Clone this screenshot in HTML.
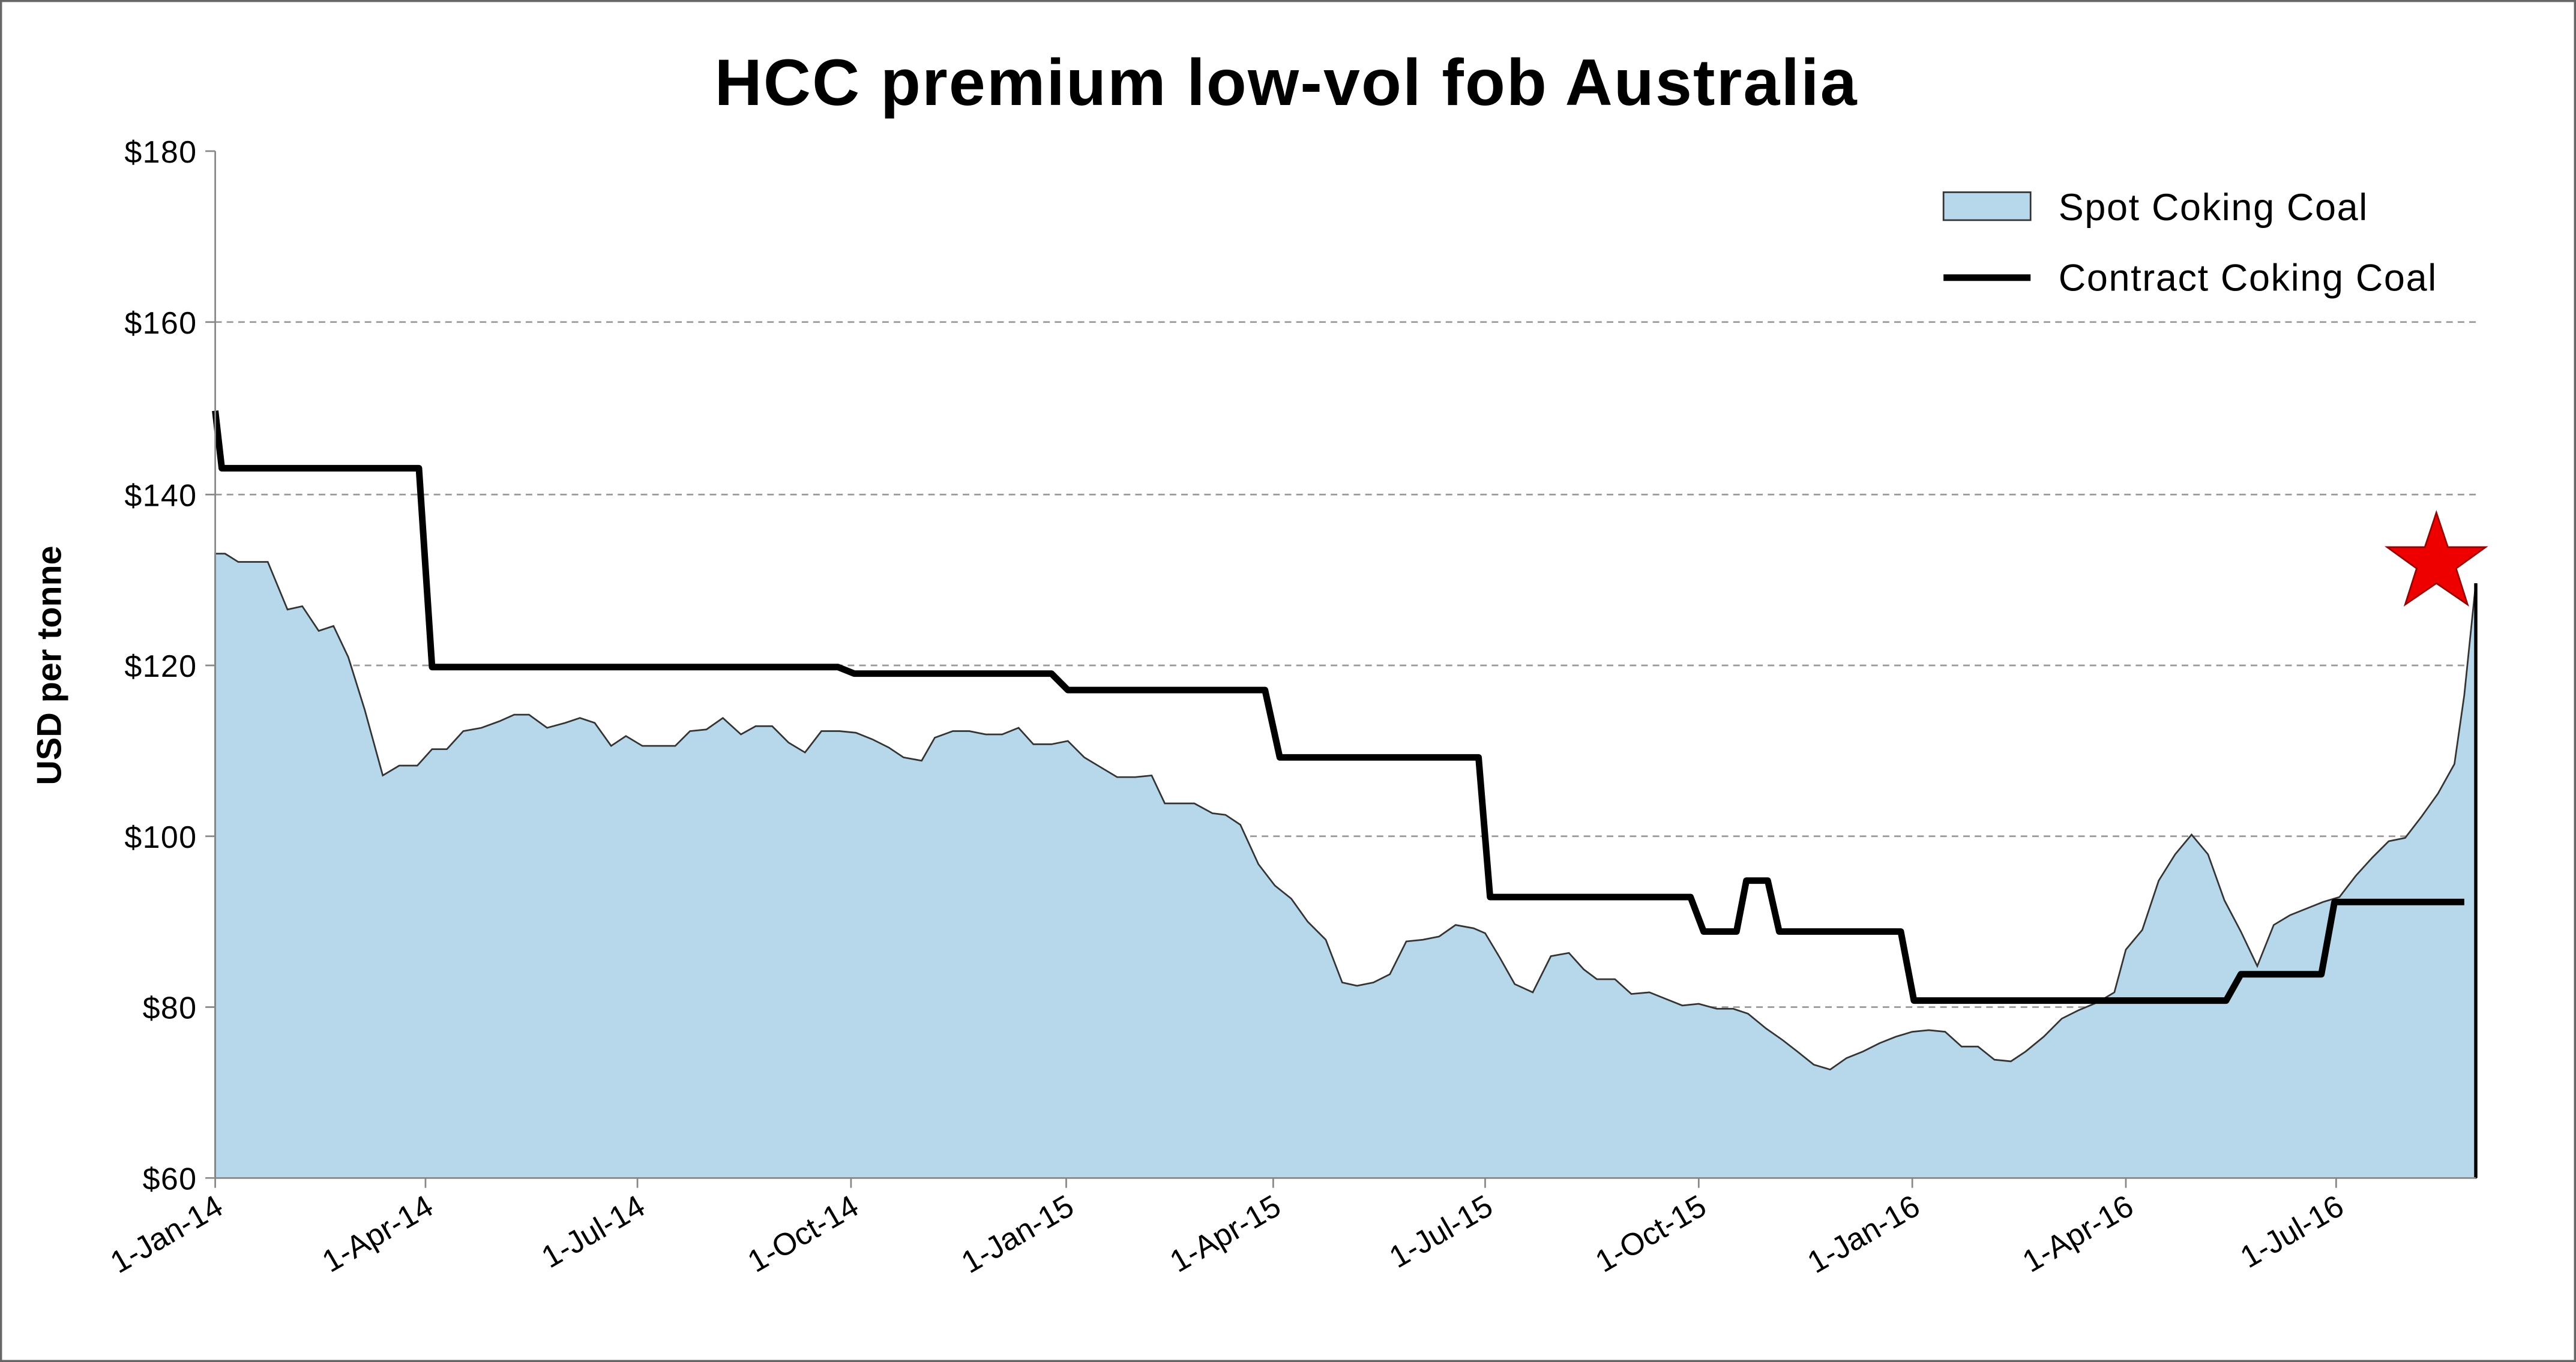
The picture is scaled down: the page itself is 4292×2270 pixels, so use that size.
<!DOCTYPE html>
<html><head><meta charset="utf-8"><style>html,body{margin:0;padding:0;background:#fff}svg{display:block}</style></head>
<body>
<svg width="4292" height="2270" viewBox="0 0 1568 829" preserveAspectRatio="none" xmlns="http://www.w3.org/2000/svg" font-family="Liberation Sans, Arial, sans-serif">
<rect x="0.5" y="0.5" width="1567" height="828" fill="#fff" stroke="#666" stroke-width="1.5"/>
<text x="783" y="64" text-anchor="middle" font-size="40" font-weight="bold" letter-spacing="0.8">HCC premium low-vol fob Australia</text>
<g stroke="#999" stroke-width="1" stroke-dasharray="4,3">
<line x1="131" x2="1507" y1="196" y2="196"/>
<line x1="131" x2="1507" y1="301" y2="301"/>
<line x1="131" x2="1507" y1="405" y2="405"/>
<line x1="131" x2="1507" y1="509" y2="509"/>
<line x1="131" x2="1507" y1="613" y2="613"/>
</g>
<polygon fill="#b7d7ea" stroke="#333" stroke-width="1" points="131,337 137,337 145,342 163,342 175,371 184,369 194,384 203,381 212,400 222,432 233,472 243,466 254,466 263,456 272,456 282,445 293,443 304,439 313,435 322,435 333,443 344,440 353,437 362,440 372,454 381,448 391,454 400,454 411,454 420,445 430,444 440,437 451,447 460,442 470,442 480,452 490,458 500,445 511,445 521,446 531,450 541,455 550,461 561,463 569,449 580,445 590,445 600,447 610,447 620,443 629,453 640,453 650,451 660,461 670,467 680,473 691,473 701,472 709,489 718,489 727,489 738,495 746,496 755,502 766,526 776,539 786,547 796,561 807,572 817,598 826,600 836,598 846,593 856,573 866,572 876,570 886,563 897,565 904,568 913,583 922,599 933,604 944,582 955,580 964,590 972,596 983,596 993,605 1004,604 1014,608 1024,612 1034,611 1045,614 1055,614 1064,617 1075,626 1085,633 1094,640 1104,648 1114,651 1124,644 1134,640 1144,635 1154,631 1164,628 1174,627 1184,628 1194,637 1204,637 1214,645 1224,646 1233,640 1244,631 1255,620 1265,615 1277,610 1287,604 1294,578 1304,566 1314,536 1324,520 1334,508 1344,520 1354,548 1364,567 1374,588 1384,563 1394,557 1404,553 1414,549 1424,546 1434,533 1444,522 1454,512 1464,510 1474,497 1484,483 1494,465 1500,423 1507,355 1507,717 131,717"/>
<line x1="1507" y1="355" x2="1507" y2="717" stroke="#000" stroke-width="2"/>
<polyline fill="none" stroke="#000" stroke-width="4" stroke-linejoin="round" points="131,250 135,285 255,285 263,406 510,406 520,410 640,410 650,420 770,420 779,461 900,461 907,546 1029,546 1037,567 1057,567 1063,536 1076,536 1083,567 1157,567 1165,609 1355,609 1364,593 1413,593 1421,549 1500,549"/>
<g stroke="#888" stroke-width="1">
<line x1="131" y1="92" x2="131" y2="717"/>
<line x1="131" y1="717" x2="1507" y2="717"/>
<line x1="125" x2="131" y1="92" y2="92"/><line x1="125" x2="131" y1="196" y2="196"/><line x1="125" x2="131" y1="301" y2="301"/><line x1="125" x2="131" y1="405" y2="405"/><line x1="125" x2="131" y1="509" y2="509"/><line x1="125" x2="131" y1="613" y2="613"/><line x1="125" x2="131" y1="717" y2="717"/>
<line x1="131" x2="131" y1="717" y2="723"/><line x1="259" x2="259" y1="717" y2="723"/><line x1="388" x2="388" y1="717" y2="723"/><line x1="518" x2="518" y1="717" y2="723"/><line x1="649" x2="649" y1="717" y2="723"/><line x1="775" x2="775" y1="717" y2="723"/><line x1="904" x2="904" y1="717" y2="723"/><line x1="1034" x2="1034" y1="717" y2="723"/><line x1="1164" x2="1164" y1="717" y2="723"/><line x1="1294" x2="1294" y1="717" y2="723"/><line x1="1422" x2="1422" y1="717" y2="723"/>
</g>
<g font-size="19" text-anchor="end" letter-spacing="0.5">
<text x="120" y="99">$180</text><text x="120" y="203">$160</text><text x="120" y="308">$140</text><text x="120" y="412">$120</text><text x="120" y="516">$100</text><text x="120" y="620">$80</text><text x="120" y="724">$60</text>
</g>
<g font-size="19" text-anchor="end">
<text transform="translate(137,738) rotate(-30)">1-Jan-14</text>
<text transform="translate(265,738) rotate(-30)">1-Apr-14</text>
<text transform="translate(394,738) rotate(-30)">1-Jul-14</text>
<text transform="translate(524,738) rotate(-30)">1-Oct-14</text>
<text transform="translate(655,738) rotate(-30)">1-Jan-15</text>
<text transform="translate(781,738) rotate(-30)">1-Apr-15</text>
<text transform="translate(910,738) rotate(-30)">1-Jul-15</text>
<text transform="translate(1040,738) rotate(-30)">1-Oct-15</text>
<text transform="translate(1170,738) rotate(-30)">1-Jan-16</text>
<text transform="translate(1300,738) rotate(-30)">1-Apr-16</text>
<text transform="translate(1428,738) rotate(-30)">1-Jul-16</text>
</g>
<text transform="translate(37,405) rotate(-90)" text-anchor="middle" font-size="21" font-weight="bold">USD per tonne</text>
<rect x="1183" y="117" width="53" height="17" fill="#b7d7ea" stroke="#333" stroke-width="1"/>
<text x="1253" y="134" font-size="23" letter-spacing="0.6">Spot Coking Coal</text>
<line x1="1183" x2="1236" y1="169" y2="169" stroke="#000" stroke-width="4"/>
<text x="1253" y="177" font-size="23" letter-spacing="0.6">Contract Coking Coal</text>
<polygon fill="#e00" stroke="#900" stroke-width="1" points="1483,312 1490,333 1513,333 1495,346 1502,368 1483,355 1464,368 1471,346 1453,333 1476,333"/>
</svg>
</body></html>
